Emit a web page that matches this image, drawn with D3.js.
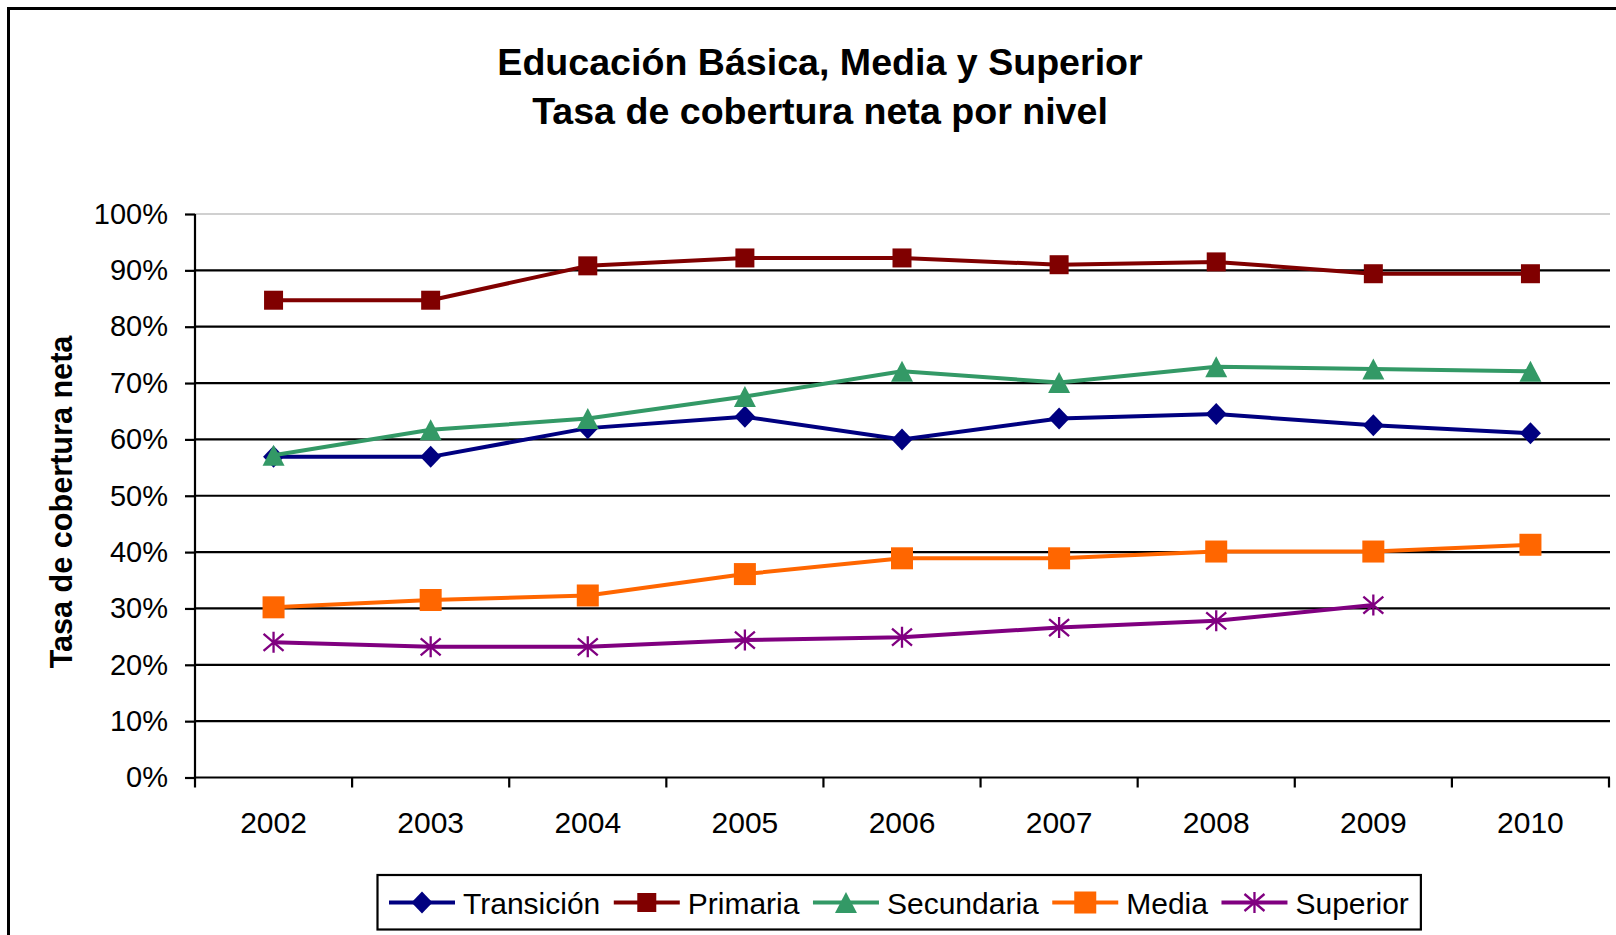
<!DOCTYPE html>
<html>
<head>
<meta charset="utf-8">
<script src="https://cdn.jsdelivr.net/npm/d3@7/dist/d3.min.js"></script>
<style>
  html, body { margin: 0; padding: 0; background: #fff; }
  svg { display: block; }
  text { font-family: "Liberation Sans", Arial, sans-serif; fill: #000; }
</style>
</head>
<body>
<svg id="chart" width="1616" height="935"></svg>
<script>
// ---- Data ----
const years = ["2002", "2003", "2004", "2005", "2006", "2007", "2008", "2009", "2010"];
const transicion = [56.9, 56.9, 62.0, 64.0, 60.0, 63.7, 64.5, 62.5, 61.1];
const primaria   = [84.7, 84.7, 90.8, 92.2, 92.2, 91.0, 91.5, 89.4, 89.4];
const secundaria = [57.2, 61.7, 63.7, 67.6, 72.1, 70.1, 72.9, 72.5, 72.1];
const media      = [30.2, 31.5, 32.3, 36.1, 38.9, 38.9, 40.1, 40.1, 41.3];
const superior   = [24.0, 23.2, 23.2, 24.4, 24.9, 26.6, 27.8, 30.6, null];
const seriesNames = ["Transición", "Primaria", "Secundaria", "Media", "Superior"];
const yTickValues = [0, 10, 20, 30, 40, 50, 60, 70, 80, 90, 100];
const yTickLabels = ["0%", "10%", "20%", "30%", "40%", "50%", "60%", "70%", "80%", "90%", "100%"];
const titleLines = ["Educación Básica, Media y Superior", "Tasa de cobertura neta por nivel"];
const yAxisTitle = "Tasa de cobertura neta";

// ---- Styles ----
const colors = ["#000080", "#800000", "#339966", "#FF6600", "#800080"];
const markerTypes = ["diamond", "square", "triangle", "bigsquare", "star"];
const seriesValues = [transicion, primaria, secundaria, media, superior];

const svg = d3.select("#chart");
const W = 1616, H = 935;
const plot = { left: 195, right: 1609, top: 214, bottom: 777.5 };

// outer border (extends beyond the visible area on right/bottom)
svg.append("rect")
  .attr("x", 8.5).attr("y", 8.5)
  .attr("width", W + 20).attr("height", H + 20)
  .attr("fill", "none").attr("stroke", "#000").attr("stroke-width", 3);

// Title
svg.append("g").selectAll("text").data(titleLines).join("text")
  .attr("x", 820).attr("y", (d, i) => 75 + i * 49)
  .attr("text-anchor", "middle")
  .attr("font-size", 37.6).attr("font-weight", "bold")
  .text(d => d);

// Scales
const x = d3.scaleBand().domain(years).range([plot.left, plot.right]).padding(0);
const y = d3.scaleLinear().domain([0, 100]).range([plot.bottom, plot.top]);
const cx = d => x(d) + x.bandwidth() / 2;

// Gridlines
svg.append("g").selectAll("line").data(yTickValues.filter(v => v > 0)).join("line")
  .attr("x1", plot.left).attr("x2", plot.right + 1)
  .attr("y1", d => y(d)).attr("y2", d => y(d))
  .attr("stroke", d => d === 100 ? "#c0c0c0" : "#000")
  .attr("stroke-width", d => d === 100 ? 1.5 : 2.2);

// Y axis
const yAxis = d3.axisLeft(y).tickValues(yTickValues)
  .tickFormat((d, i) => yTickLabels[i]).tickSize(10).tickPadding(17);
const gy = svg.append("g").attr("transform", `translate(${plot.left},0)`).call(yAxis);
gy.select(".domain").attr("stroke", "#000").attr("stroke-width", 2.2)
  .attr("d", `M0,${plot.top}V${plot.bottom}`);
gy.selectAll(".tick line").attr("stroke", "#000").attr("stroke-width", 2.2);
gy.selectAll(".tick text").attr("font-size", 29)
  .attr("font-family", "'Liberation Sans', Arial, sans-serif").attr("fill", "#000");

// X axis
const xAxis = d3.axisBottom(x).tickSize(0).tickPadding(34.5);
const gx = svg.append("g").attr("transform", `translate(0,${plot.bottom})`).call(xAxis);
gx.select(".domain").attr("stroke", "#000").attr("stroke-width", 2.2)
  .attr("d", `M${plot.left},0H${plot.right + 1}`);
gx.selectAll(".tick text").attr("font-size", 30)
  .attr("font-family", "'Liberation Sans', Arial, sans-serif").attr("fill", "#000");
// category boundary ticks
const boundaries = years.map(d => x(d)).concat([x(years[years.length - 1]) + x.bandwidth()]);
gx.append("g").selectAll("line").data(boundaries).join("line")
  .attr("x1", d => d).attr("x2", d => d)
  .attr("y1", 0).attr("y2", 10)
  .attr("stroke", "#000").attr("stroke-width", 2.2);

// Y axis title
svg.append("text")
  .attr("transform", `translate(72,502) rotate(-90)`)
  .attr("text-anchor", "middle")
  .attr("font-size", 30.6).attr("font-weight", "bold")
  .text(yAxisTitle);

// Marker drawing
function drawMarker(g, type, color) {
  if (type === "diamond") {
    g.append("path").attr("d", "M0,-11L10.5,0L0,11L-10.5,0Z").attr("fill", color);
  } else if (type === "square") {
    g.append("rect").attr("x", -9.5).attr("y", -9.5).attr("width", 19).attr("height", 19).attr("fill", color);
  } else if (type === "bigsquare") {
    g.append("rect").attr("x", -11).attr("y", -11).attr("width", 22).attr("height", 22).attr("fill", color);
  } else if (type === "triangle") {
    g.append("path").attr("d", "M0,-10.5L11,10.5L-11,10.5Z").attr("fill", color);
  } else if (type === "star") {
    g.append("path").attr("d", "M0,-10.5V10.5M-10,-8.5L10,8.5M-10,8.5L10,-8.5")
      .attr("stroke", color).attr("stroke-width", 2.3).attr("fill", "none");
  }
}

// Series
const line = d3.line()
  .defined(d => d.v !== null)
  .x(d => cx(d.year)).y(d => y(d.v));

seriesValues.forEach((vals, si) => {
  const pts = years.map((yr, i) => ({ year: yr, v: vals[i] }));
  const g = svg.append("g");
  g.append("path").datum(pts)
    .attr("d", line).attr("fill", "none")
    .attr("stroke", colors[si]).attr("stroke-width", 4)
    .attr("stroke-linejoin", "round");
  pts.filter(p => p.v !== null).forEach(p => {
    const mg = g.append("g").attr("transform", `translate(${cx(p.year)},${y(p.v)})`);
    drawMarker(mg, markerTypes[si], colors[si]);
  });
});

// Legend
const legend = svg.append("g");
const legendY = 902.5;
const legendBox = legend.append("rect");
let cur = 389;
seriesNames.forEach((name, si) => {
  const item = legend.append("g");
  item.append("line").attr("x1", cur).attr("x2", cur + 66)
    .attr("y1", legendY).attr("y2", legendY)
    .attr("stroke", colors[si]).attr("stroke-width", 4);
  const mg = item.append("g").attr("transform", `translate(${cur + 33},${legendY})`);
  drawMarker(mg, markerTypes[si], colors[si]);
  const t = item.append("text").attr("x", cur + 74).attr("y", 913.5)
    .attr("font-size", 30).text(name);
  const w = t.node().getComputedTextLength();
  cur = cur + 74 + w + 13.5;
});
legendBox.attr("x", 377.5).attr("y", 875)
  .attr("width", (cur - 13.5 + 12) - 377.5).attr("height", 54.5)
  .attr("fill", "#fff").attr("stroke", "#000").attr("stroke-width", 2.2);
</script>
</body>
</html>
